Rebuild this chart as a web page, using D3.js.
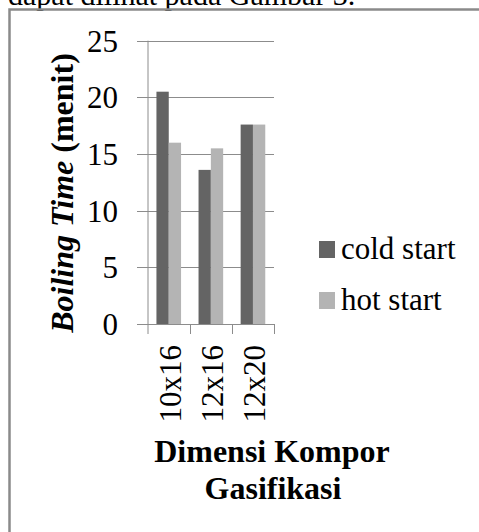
<!DOCTYPE html>
<html>
<head>
<meta charset="utf-8">
<script src="https://cdn.jsdelivr.net/npm/d3@7"></script>
<style>
  html, body { margin: 0; padding: 0; background: #fff; }
  svg { display: block; }
</style>
</head>
<body>
<svg id="chart" width="479" height="532" style="font-family: 'Liberation Serif'"></svg>
<script>
const categories = ["10x16", "12x16", "12x20"];
const seriesNames = ["cold start", "hot start"];
const coldStart = [20.5, 13.6, 17.6];
const hotStart = [16.0, 15.5, 17.6];
const yTicks = [0, 5, 10, 15, 20, 25];
const colors = ["#646464", "#b4b4b4"];

const FONT = "Liberation Serif";
const seriesValues = [coldStart, hotStart];
const svg = d3.select("#chart");

function txt(sel) { return sel.style("font-family", FONT).attr("fill", "#000"); }

// surrounding page text and frame
txt(svg.append("text")).attr("x", 8).attr("y", 5).attr("font-size", 30)
  .text("dapat dilihat pada Gambar 3.");
svg.append("rect").attr("x", 9.5).attr("y", 9.5).attr("width", 480).attr("height", 540)
  .attr("fill", "none").attr("stroke", "#8a8a8a").attr("stroke-width", 2.5);

const x0 = d3.scaleBand().domain(categories).range([147.7, 274]).paddingInner(0).paddingOuter(0);
const x1 = d3.scaleBand().domain(seriesNames).range([0, x0.bandwidth()]).paddingInner(0).paddingOuter(0.71);
const y = d3.scaleLinear().domain([0, 25]).range([324, 40.7]);

// gridlines with outer tick marks
svg.append("g").selectAll("line").data(yTicks).join("line")
  .attr("x1", 137).attr("x2", 274)
  .attr("y1", d => Math.round(y(d)) + 0.5).attr("y2", d => Math.round(y(d)) + 0.5)
  .attr("stroke", "#8c8c8c").attr("stroke-width", 1);

// y axis line
svg.append("line").attr("x1", 148).attr("x2", 148).attr("y1", y(25)).attr("y2", y(0) + 10)
  .attr("stroke", "#8c8c8c").attr("stroke-width", 1);

// x category ticks
const bounds = categories.map(c => x0(c) + x0.bandwidth());
svg.append("g").selectAll("line").data(bounds).join("line")
  .attr("x1", d => Math.round(d) + 0.5).attr("x2", d => Math.round(d) + 0.5)
  .attr("y1", y(0)).attr("y2", y(0) + 10)
  .attr("stroke", "#8c8c8c").attr("stroke-width", 1);

// bars
const groups = svg.append("g").selectAll("g").data(categories).join("g")
  .attr("transform", c => `translate(${x0(c)},0)`);
groups.selectAll("rect").data((c, i) => seriesNames.map((s, j) => ({ s, j, v: seriesValues[j][i] })))
  .join("rect")
  .attr("x", d => x1(d.s)).attr("width", x1.bandwidth())
  .attr("y", d => y(d.v)).attr("height", d => y(0) - y(d.v))
  .attr("fill", d => colors[d.j]);

// y tick labels
txt(svg.append("g").selectAll("text").data(yTicks).join("text"))
  .attr("x", 118).attr("y", d => y(d)).attr("dy", "0.35em")
  .attr("text-anchor", "end").attr("font-size", 31)
  .text(d => d);

// x tick labels (rotated)
txt(svg.append("g").selectAll("text").data(categories).join("text"))
  .attr("transform", c => `translate(${x0(c) + x0.bandwidth() / 2 + 1},${y(0) + 21}) rotate(-90)`)
  .attr("dy", "0.35em").attr("text-anchor", "end").attr("font-size", 31)
  .text(c => c);

// y axis title
const yt = txt(svg.append("text"))
  .attr("transform", "translate(73,193) rotate(-90)")
  .attr("text-anchor", "middle").attr("font-size", 32).attr("font-weight", "bold");
yt.append("tspan").attr("font-style", "italic").text("Boiling Time");
yt.append("tspan").text(" (menit)");

// x axis title
txt(svg.append("text")).attr("x", 272).attr("y", 462).attr("text-anchor", "middle")
  .attr("font-size", 32).attr("font-weight", "bold").text("Dimensi Kompor");
txt(svg.append("text")).attr("x", 273).attr("y", 499).attr("text-anchor", "middle")
  .attr("font-size", 32).attr("font-weight", "bold").text("Gasifikasi");

// legend
const legend = svg.append("g").selectAll("g").data(seriesNames).join("g")
  .attr("transform", (s, i) => `translate(319,${241 + i * 51})`);
legend.append("rect").attr("width", 16).attr("height", 17).attr("fill", (s, i) => colors[i]);
txt(legend.append("text")).attr("x", 22).attr("y", 18).attr("font-size", 31).text(s => s);
</script>
</body>
</html>
